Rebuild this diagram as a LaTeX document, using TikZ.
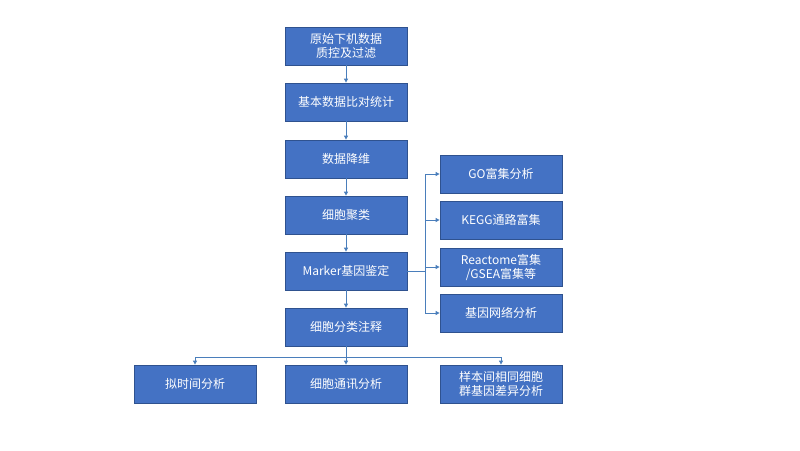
\documentclass[tikz,border=0pt]{standalone}
\usepackage{fontspec}
\setmainfont{Noto Sans CJK SC}
\usetikzlibrary{arrows.meta}
\definecolor{boxfill}{HTML}{4472C4}
\definecolor{boxline}{HTML}{2F528F}
\definecolor{arr}{HTML}{4A7EBB}
\begin{document}
\begin{tikzpicture}[x=1pt,y=-1pt,
  box/.style={draw=boxline,fill=boxfill,line width=0.8pt,minimum width=122pt,minimum height=38pt,text=white,font=\fontsize{12}{14}\selectfont,align=center,inner sep=1pt},
  conn/.style={draw=arr,line width=1pt,-{Triangle[length=4pt,width=4pt]}}]
\useasboundingbox (0,0) rectangle (800,450);
\node[box] (a) at (346,46) {原始下机数据\\质控及过滤};
\node[box] (b) at (346,102) {基本数据比对统计};
\node[box] (c) at (346,159) {数据降维};
\node[box] (d) at (346,215) {细胞聚类};
\node[box] (e) at (346,271) {Marker基因鉴定};
\node[box] (f) at (346,327) {细胞分类注释};
\node[box] (g1) at (195,384) {拟时间分析};
\node[box] (g2) at (346,384) {细胞通讯分析};
\node[box] (g3) at (501,384) {样本间相同细胞\\群基因差异分析};
\node[box] (r1) at (501,174) {GO富集分析};
\node[box] (r2) at (501,220) {KEGG通路富集};
\node[box] (r3) at (501,267) {Reactome富集\\/GSEA富集等};
\node[box] (r4) at (501,313) {基因网络分析};
\draw[conn] (a) -- (b);
\draw[conn] (b) -- (c);
\draw[conn] (c) -- (d);
\draw[conn] (d) -- (e);
\draw[conn] (e) -- (f);
\coordinate (j) at (425,271);
\draw[draw=arr,line width=1pt] (e.east) -- (j);
\foreach \r in {r1,r2,r3,r4}{\draw[conn] (j) |- (\r.west);}
\coordinate (k) at (346,357);
\draw[draw=arr,line width=1pt] (f.south) -- (k);
\foreach \g in {g1,g2,g3}{\draw[conn] (k) -| (\g.north);}
\end{tikzpicture}
\end{document}
